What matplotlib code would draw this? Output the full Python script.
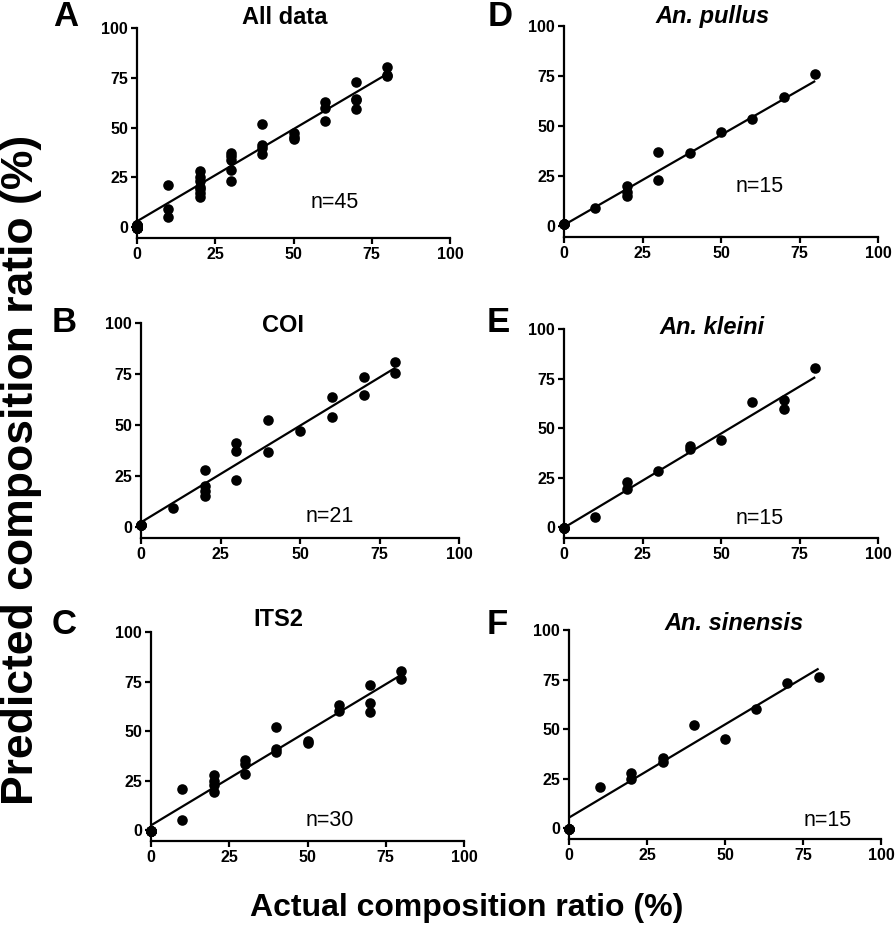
import numpy as np
import matplotlib
matplotlib.use('Agg')
import matplotlib.pyplot as plt

plt.rcParams['font.family'] = ['Liberation Sans', 'DejaVu Sans']

# === Data ===
pullus_x = [0, 0, 0, 0, 10, 20, 20, 20, 30, 30, 40, 50, 60, 70, 80]
pullus_y = [1, 1, 1, 1, 9, 20, 17, 15, 37, 23, 36.5, 47, 53.5, 64.5, 76]

kleini_x = [0, 0, 0, 0, 10, 20, 20, 30, 40, 40, 50, 60, 70, 70, 80]
kleini_y = [-0.5, -0.5, -0.5, -0.5, 5, 23, 19, 28.5, 41, 39.5, 44, 63, 64, 59.5, 80.5]

sinensis_x = [0, 0, 0, 0, 0, 10, 20, 20, 30, 30, 40, 50, 60, 70, 80]
sinensis_y = [-0.5, -0.5, -0.5, -0.5, -0.5, 21, 28, 25, 35.5, 33.5, 52, 45, 60, 73, 76.5]

coi_x = [0, 0, 0, 0, 10, 20, 20, 20, 20, 30, 30, 30, 40, 40, 50, 60, 60, 70, 70, 80, 80]
coi_y = [1, 1, 1, 1, 9, 28, 20, 17.5, 15, 41, 37, 23, 52.5, 36.5, 47, 63.5, 54, 73.5, 64.5, 81, 75.5]

all_x = pullus_x + kleini_x + sinensis_x
all_y = pullus_y + kleini_y + sinensis_y
its2_x = kleini_x + sinensis_x
its2_y = kleini_y + sinensis_y

# regression lines (slope, intercept) as drawn
fit_slopes = [0.926, 0.948, 0.95, 0.90, 0.95, 0.94]
fit_intercepts = [2.9, 2.2, 2.4, 0.5, -0.3, 5.3]

panel_letters = ['A', 'B', 'C', 'D', 'E', 'F']
panel_titles = ['All data', 'COI', 'ITS2', 'An. pullus', 'An. kleini', 'An. sinensis']
n_labels = ['n=45', 'n=21', 'n=30', 'n=15', 'n=15', 'n=15']
panel_x = [all_x, coi_x, its2_x, pullus_x, kleini_x, sinensis_x]
panel_y = [all_y, coi_y, its2_y, pullus_y, kleini_y, sinensis_y]
ticks = [0, 25, 50, 75, 100]

# === Layout (pixel positions in a 896x939 canvas) ===
W, H = 896, 939
# left, right, top (y=100), bottom (x-axis)
boxes = [(137, 450, 28, 238), (141, 459, 323, 538), (151, 464, 632, 841),
         (564, 878, 26, 237), (564, 878, 329, 538), (569, 881, 630, 839)]
letter_pos = [(66, 17), (64, 323), (64, 624), (500, 17), (498, 323), (497, 624)]
title_pos = [(285, 17), (283, 325), (278, 620), (713, 16), (712, 327), (734, 623)]
n_pos = [(335, 203), (330, 517), (330, 820), (760, 186), (760, 518), (828, 820)]

fig = plt.figure(figsize=(W / 100, H / 100), dpi=100)

def fx(px):
    return px / W

def fy(py):
    return 1 - py / H

for i in range(6):
    l, r, t, b = boxes[i]
    ax = fig.add_axes([fx(l), fy(b), (r - l) / W, (b - t) / H])
    ax.scatter(panel_x[i], panel_y[i], s=58, color='black', zorder=3, clip_on=False,
               linewidths=0)
    xs = np.array([0, 80])
    ax.plot(xs, fit_slopes[i] * xs + fit_intercepts[i], color='black', lw=1.6,
            solid_capstyle='butt')
    ax.set_xlim(0, 100)
    ax.set_ylim(-5.5, 100)
    ax.set_xticks(ticks)
    ax.set_yticks(ticks)
    ax.set_xticklabels([str(v) for v in ticks])
    ax.set_yticklabels([str(v) for v in ticks])
    for s in ['top', 'right']:
        ax.spines[s].set_visible(False)
    for s in ['left', 'bottom']:
        ax.spines[s].set_linewidth(1.6)
    ax.tick_params(direction='out', length=4.5, width=1.6, labelsize=11.5, pad=2)
    for lab in ax.get_xticklabels() + ax.get_yticklabels():
        lab.set_fontweight('bold')

    style = 'italic' if i >= 3 else 'normal'
    fig.text(fx(title_pos[i][0]), fy(title_pos[i][1]), panel_titles[i], ha='center',
             va='center', fontsize=17, fontweight='bold', style=style)
    fig.text(fx(letter_pos[i][0]), fy(letter_pos[i][1]), panel_letters[i], ha='center',
             va='center', fontsize=25, fontweight='bold')
    fig.text(fx(n_pos[i][0]), fy(n_pos[i][1]), n_labels[i], ha='center', va='center',
             fontsize=15.5)

fig.text(fx(22), fy(470), 'Predicted composition ratio (%)', rotation=90, ha='center',
         va='center', fontsize=32, fontweight='bold')
fig.text(fx(467), fy(908), 'Actual composition ratio (%)', ha='center', va='center',
         fontsize=23, fontweight='bold')

fig.savefig('out.png', dpi=100, facecolor='white')
